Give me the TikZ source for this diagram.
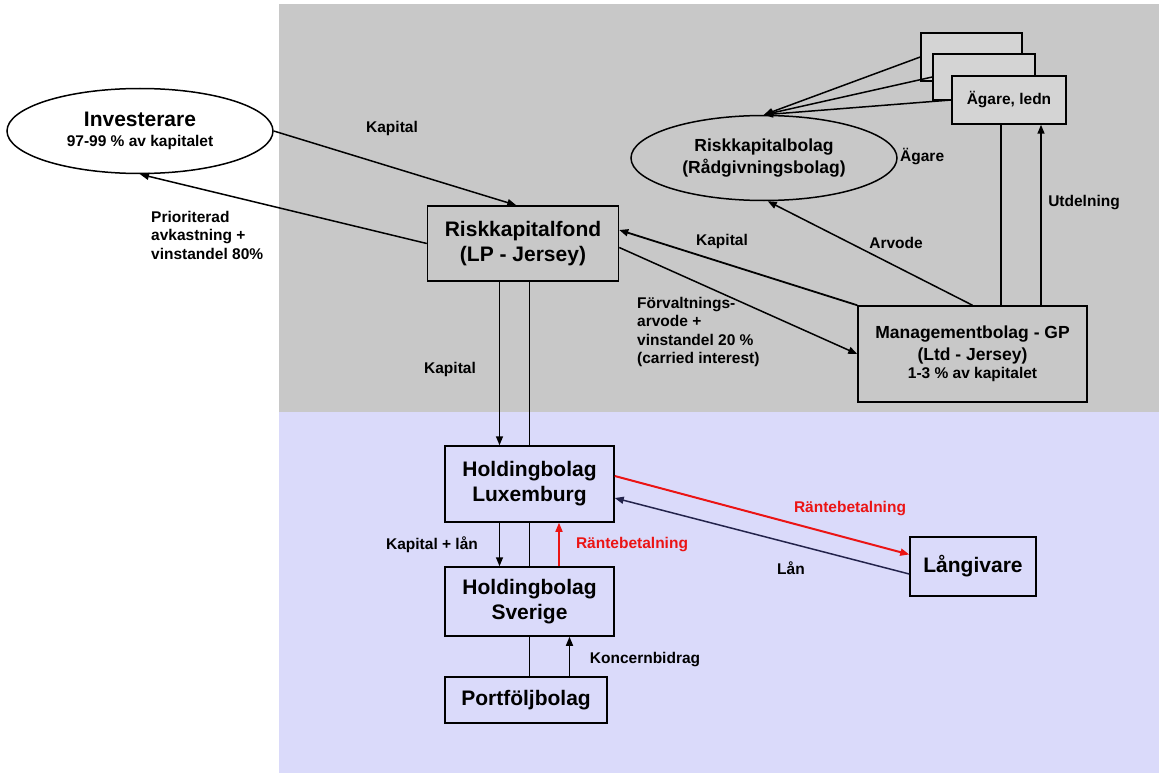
\documentclass[tikz,border=0pt]{standalone}
\usepackage{fontspec}
\setmainfont{Liberation Sans}
\usetikzlibrary{shapes.geometric,arrows.meta}

\definecolor{topgray}{RGB}{200,200,200}
\definecolor{lowblue}{RGB}{218,218,250}
\definecolor{stackgray}{RGB}{212,212,212}
\definecolor{payred}{RGB}{235,20,20}
\definecolor{loannavy}{RGB}{35,35,75}

\newcommand{\labsize}{\fontsize{15.5}{18.5}\selectfont}

\tikzset{
	box/.style={draw, line width=1.5pt, inner sep=0pt, align=center, font=\bfseries\fontsize{21}{25}\selectfont},
	oval/.style={draw, ellipse, line width=1.5pt, inner sep=0pt, minimum width=266pt, minimum height=85pt, align=center},
	lbl/.style={inner sep=0pt, align=left, font=\bfseries\labsize},
	arr/.style={line width=1.5pt, -{Triangle[length=9pt,width=7pt]}},
	ln/.style={line width=1.5pt}
}

\begin{document}
\begin{tikzpicture}[x=1pt,y=-1pt]
\useasboundingbox (0,0) rectangle (1159,773);
\fill[topgray] (279,4) rectangle (1159,412);
\fill[lowblue] (279,412) rectangle (1159,773);

\path (140,131) node[oval, fill=white, font=\bfseries\fontsize{15.5}{20}\selectfont] (inv) {{\fontsize{21}{25}\selectfont Investerare}\\97-99 \% av kapitalet}
		(764,158) node[oval, font=\bfseries\fontsize{17.5}{22}\selectfont] (rkb) {Riskkapitalbolag\\(Rådgivningsbolag)}
		(523,243.5) node[box, minimum width=191pt, minimum height=75pt] (fond) {Riskkapitalfond\\(LP - Jersey)}
		(971.5,57) node[box, fill=stackgray, minimum width=101pt, minimum height=48pt] (own1) {}
		(984,77) node[box, fill=stackgray, minimum width=102pt, minimum height=46pt] (own2) {}
		(1009,100) node[box, fill=stackgray, minimum width=114pt, minimum height=48pt, font=\bfseries\labsize] (own) {Ägare, ledn}
		(972.5,354) node[box, minimum width=229pt, minimum height=96pt, font=\bfseries\fontsize{17.5}{22}\selectfont] (mgmt) {Managementbolag - GP\\(Ltd - Jersey)\\[-4pt]{\fontsize{15.5}{18}\selectfont 1-3 \% av kapitalet}}
		(529.5,484) node[box, minimum width=169pt, minimum height=76pt] (lux) {Holdingbolag\\Luxemburg}
		(529.5,601.5) node[box, minimum width=169pt, minimum height=69pt] (swe) {Holdingbolag\\Sverige}
		(526,700) node[box, minimum width=162pt, minimum height=46pt] (port) {Portföljbolag}
		(973,566.5) node[box, minimum width=126pt, minimum height=59pt] (lang) {Långivare}
		;

\path (392,128) node[lbl] (kapin) {Kapital}
		(151,211) node[lbl, anchor=north west] (prio) {Prioriterad\\avkastning +\\vinstandel 80\%}
		(722,241) node[lbl] (kapgp) {Kapital}
		(637,297) node[lbl, anchor=north west] (forv) {Förvaltnings-\\arvode +\\vinstandel 20 \%\\(carried interest)}
		(896,242.5) node[lbl] (arv) {Arvode}
		(900,157) node[lbl, anchor=west] (agare) {Ägare}
		(1084,202.5) node[lbl] (utd) {Utdelning}
		(450,369) node[lbl] (kapdown) {Kapital}
		(432,545) node[lbl] (kaplan) {Kapital + lån}
		(632,545) node[lbl, text=payred] (rante1) {Räntebetalning}
		(850,509) node[lbl, text=payred] (rante2) {Räntebetalning}
		(791,568) node[lbl] (lan) {Lån}
		(645,660) node[lbl] (koncern) {Koncernbidrag}
		;

\draw[arr] (inv.east) -- (fond.100);
\draw[arr] (fond.west) -- (inv.south);
\draw[arr, line width=1.8pt] (mgmt.north west) -- ([yshift=13.5pt]fond.east);
\draw[arr] ([yshift=-4pt]fond.east) -- (mgmt.west);
\draw[arr] (mgmt.north) -- (rkb.-85);
\draw[arr] (own1.west) -- (rkb.north);
\draw[arr] (own2.west) -- (rkb.north);
\draw[arr] (own.west) -- (rkb.north);
\draw[ln] ([xshift=-8pt]own.south) -- ([xshift=-8pt]own.south |- mgmt.north);
\draw[arr] ([xshift=32pt]own.south |- mgmt.north) -- ([xshift=32pt]own.south);
\draw[arr] ([xshift=-30pt]lux.north |- fond.south) -- ([xshift=-30pt]lux.north);
\draw[ln] (lux.north |- fond.south) -- (lux.north);
\draw[arr] ([xshift=-30pt]lux.south) -- ([xshift=-30pt]swe.north);
\draw[ln] (lux.south) -- (swe.north);
\draw[arr, payred] ([xshift=29.5pt]swe.north) -- ([xshift=29.5pt]lux.south);
\draw[ln] (port.north -| swe.south) -- (swe.south);
\draw[arr] ([xshift=40pt]port.north -| swe.south) -- ([xshift=40pt]swe.south);
\draw[arr, payred, line width=2pt] ([yshift=8pt]lux.east) -- ([yshift=12pt]lang.west);
\draw[arr, loannavy] ([yshift=-7.5pt]lang.west) -- ([yshift=-14pt]lux.east);
\end{tikzpicture}
\end{document}
